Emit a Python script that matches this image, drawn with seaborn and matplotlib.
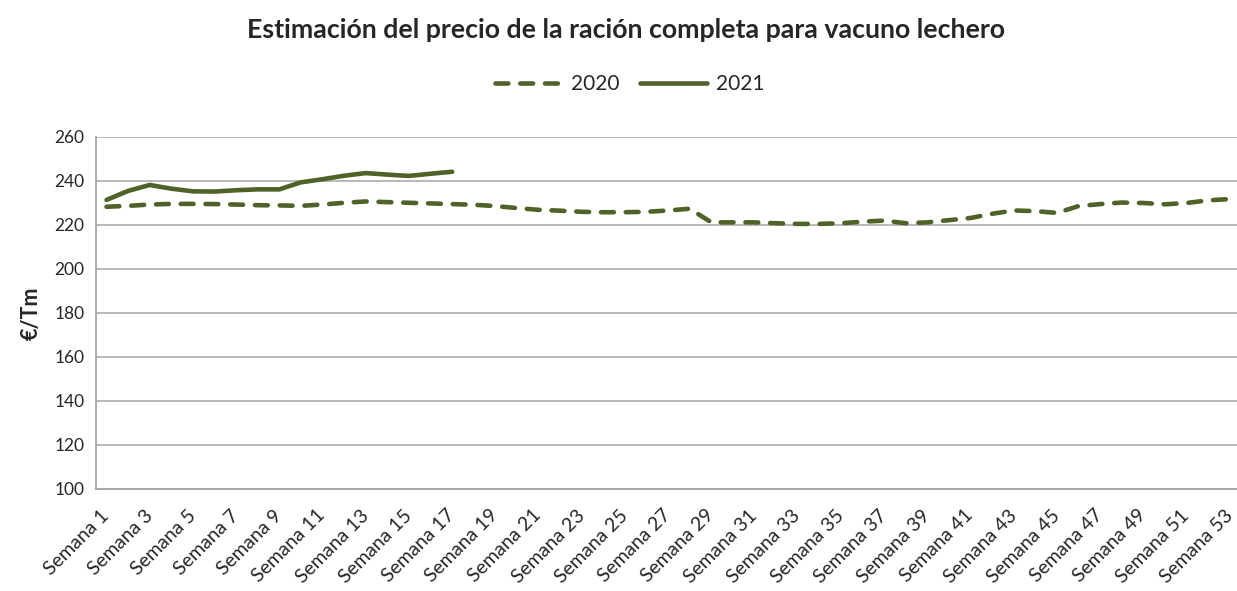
import pandas as pd
import matplotlib.pyplot as plt
import seaborn as sns

weeks = [f"Semana {i}" for i in range(1, 54)]

precio_2020 = [228.3, 228.7, 229.3, 229.6, 229.6, 229.5, 229.3, 229.0, 228.9, 228.7,
               229.3, 230.1, 230.7, 230.4, 230.1, 229.8, 229.5, 229.2, 228.6, 227.7,
               226.9, 226.5, 226.0, 225.8, 225.8, 226.0, 226.6, 227.4, 221.2, 221.2,
               221.2, 220.8, 220.5, 220.5, 220.8, 221.5, 222.0, 220.8, 221.2, 222.2,
               223.2, 225.1, 226.6, 226.3, 225.5, 228.6, 229.5, 230.2, 230.0, 229.4,
               230.0, 231.2, 231.8]

precio_2021 = [231.4, 235.5, 238.2, 236.5, 235.3, 235.2, 235.8, 236.2, 236.2, 239.4,
               240.8, 242.4, 243.6, 242.9, 242.3, 243.3, 244.2]

df = pd.concat([
    pd.DataFrame({"pos": range(len(precio_2020)), "precio": precio_2020, "year": "2020"}),
    pd.DataFrame({"pos": range(len(precio_2021)), "precio": precio_2021, "year": "2021"}),
])

sns.set_style("white")
plt.rcParams['font.family'] = ['Lato', 'DejaVu Sans']

color = "#4f6228"
grid_c = "#a6a6a6"

fig = plt.figure(figsize=(12.37, 5.91), dpi=100)
ax = fig.add_axes([0.0774, 0.1726, 0.9255, 0.5956])

sns.lineplot(data=df, x="pos", y="precio", hue="year", style="year",
             palette={"2020": color, "2021": color},
             dashes={"2020": (2.8, 2.6), "2021": ""},
             linewidth=3.3, ax=ax)

for line in ax.lines:
    line.set_dash_capstyle("round")
    line.set_solid_capstyle("round")
    line.set_solid_joinstyle("round")

handles, labels = ax.get_legend_handles_labels()
for h in handles:
    h.set_dash_capstyle("round")
    h.set_solid_capstyle("round")
ax.legend(handles, labels, loc="center", ncol=2, frameon=False, fontsize=15,
          handlelength=3.2, columnspacing=1.0, handletextpad=0.45,
          bbox_to_anchor=(630 / 1237, 1 - 84 / 591), bbox_transform=fig.transFigure)

ax.set_xlim(-0.5, 52.5)
ax.set_ylim(100, 260)
ax.set_yticks(range(100, 261, 20))
ax.set_xticks(range(0, 53, 2))
ax.set_xticklabels(weeks[::2], rotation=45, ha="right", va="center",
                   rotation_mode="anchor", fontsize=14)
ax.set_xticks([i - 0.5 for i in range(54)], minor=True)
ax.tick_params(axis="x", which="major", length=0, pad=17)
ax.tick_params(axis="x", which="minor", length=5, width=1.2, color=grid_c, direction="out")
ax.tick_params(axis="y", length=5, width=1.2, color=grid_c, direction="out", labelsize=12.5, pad=3)
ax.yaxis.grid(True, color=grid_c, linewidth=1.1)
ax.set_axisbelow(True)

for s in ["top", "right"]:
    ax.spines[s].set_visible(False)
for s in ["left", "bottom"]:
    ax.spines[s].set_color(grid_c)
    ax.spines[s].set_linewidth(1.3)

ax.set_xlabel("")
ax.set_ylabel("€/Tm", fontsize=15.5, fontweight="bold")
ax.yaxis.set_label_coords(-0.047, 0.5)
fig.text(626 / 1237, 1 - 30 / 591, "Estimación del precio de la ración completa para vacuno lechero",
         ha="center", va="center", fontsize=19.3, fontweight="bold")

plt.savefig("out.png", dpi=100)
plt.close()
